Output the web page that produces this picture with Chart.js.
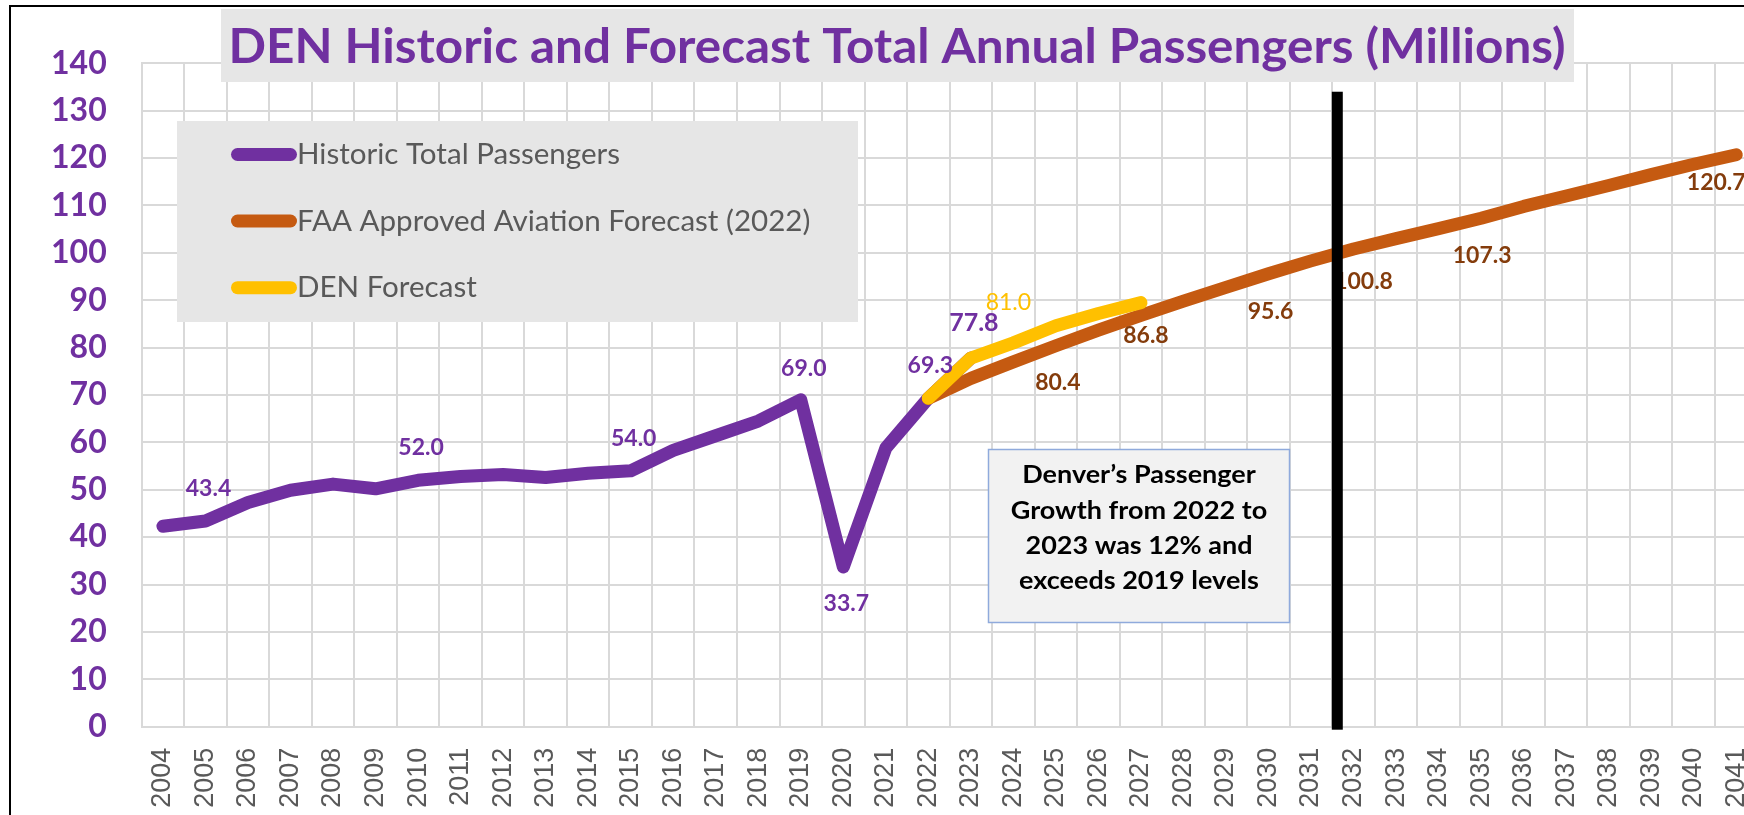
<!DOCTYPE html>
<html><head><meta charset="utf-8">
<script src="https://cdn.jsdelivr.net/npm/chart.js@4.4.1/dist/chart.umd.min.js"></script>
<style>
html,body{margin:0;padding:0;background:#fff;overflow:hidden;width:1744px;height:815px;}
#wrap{position:absolute;left:0;top:0;width:1770px;height:815px;}
</style></head><body>
<div id="wrap"><canvas id="c" width="1770" height="815"></canvas></div>
<script>
// ---------- data ----------
const years = ['2004','2005','2006','2007','2008','2009','2010','2011','2012','2013','2014','2015','2016','2017','2018','2019','2020','2021','2022','2023','2024','2025','2026','2027','2028','2029','2030','2031','2032','2033','2034','2035','2036','2037','2038','2039','2040','2041'];
const historic = [42.3,43.4,47.3,49.9,51.2,50.2,52.0,52.8,53.2,52.6,53.5,54.0,58.3,61.4,64.5,69.0,33.7,58.8,69.3,77.8,
  null,null,null,null,null,null,null,null,null,null,null,null,null,null,null,null,null,null];
const faaForecast = [null,null,null,null,null,null,null,null,null,null,null,null,null,null,null,null,null,null,
  69.3,73.5,77.0,80.4,83.7,86.8,89.8,92.7,95.6,98.3,100.8,103.0,105.1,107.3,109.8,112.0,114.2,116.5,118.7,120.7];
const denForecast = [null,null,null,null,null,null,null,null,null,null,null,null,null,null,null,null,null,null,
  69.3,77.8,81.0,84.6,87.2,89.5,null,null,null,null,null,null,null,null,null,null,null,null,null,null];
const seriesNames = ['Historic Total Passengers','FAA Approved Aviation Forecast (2022)','DEN Forecast'];
const historicLabelYears = ['2005','2010','2015','2019','2020','2022','2023'];
const faaLabelYears = ['2025','2027','2030','2032','2035','2041'];
const denLabelYears = ['2024'];
const yTickMax = 140, yTickStep = 10;
const titleText = 'DEN Historic and Forecast Total Annual Passengers (Millions)';
const noteLines = ['Denver\u2019s Passenger','Growth from 2022 to','2023 was 12% and','exceeds 2019 levels'];

// ---------- styles ----------
const PURPLE = '#7030A0', ORANGE = '#C55A11', YELLOW = '#FFC000', BROWN = '#843C0C', GRID = '#D9D9D9';
const labelStyle = {
  0: {color: PURPLE, weight: 'bold', off: {'2005':[3,-32],'2010':[3,-33],'2015':[3,-32],'2019':[3,-31],'2020':[3,37],'2022':[2,-33],'2023':[3,-35]}},
  1: {color: BROWN, weight: 'bold', off: {'2025':[2,37],'2027':[5,20],'2030':[2,38],'2032':[10,33],'2035':[1,37],'2041':[-20,28]}},
  2: {color: YELLOW, weight: 'normal', off: {'2024':[-5,-40]}}
};
const labelYears = [historicLabelYears, faaLabelYears, denLabelYears];

function drawFit(ctx, text, x, y, font, color, sx, align) {
  ctx.save();
  ctx.font = font; ctx.fillStyle = color; ctx.textBaseline = 'alphabetic'; ctx.textAlign = align || 'left';
  ctx.translate(x, y); ctx.scale(sx, 1); ctx.fillText(text, 0, 0);
  ctx.restore();
}
function scaleFor(ctx, text, font, target) {
  ctx.save(); ctx.font = font; const w = ctx.measureText(text).width; ctx.restore();
  return target / w;
}

const decor = {
  id: 'decor',
  beforeDatasetsDraw(chart) {
    const ctx = chart.ctx;
    ctx.save();
    // outer frame
    ctx.strokeStyle = '#000'; ctx.lineWidth = 2;
    ctx.beginPath(); ctx.moveTo(10, 900); ctx.lineTo(10, 6); ctx.lineTo(1800, 6); ctx.stroke();
    // title
    ctx.fillStyle = '#E6E6E6'; ctx.fillRect(221, 9, 1353, 73);
    const tFont = 'bold 47px Lato';
    drawFit(ctx, titleText, 228.5, 62.7, tFont, PURPLE, scaleFor(ctx, titleText, tFont, 1337), 'left');
    // legend
    ctx.fillStyle = '#E6E6E6'; ctx.fillRect(177, 121, 681, 201);
    const lFont = '28px Lato';
    const lsx = scaleFor(ctx, seriesNames[0], lFont, 323);
    const lcols = [PURPLE, ORANGE, YELLOW];
    const lys = [154.5, 221, 287.7];
    for (let i = 0; i < 3; i++) {
      ctx.strokeStyle = lcols[i]; ctx.lineWidth = 13; ctx.lineCap = 'round';
      ctx.beginPath(); ctx.moveTo(237.5, lys[i]); ctx.lineTo(290.5, lys[i]); ctx.stroke();
      drawFit(ctx, seriesNames[i], 297, lys[i] + 9.5, lFont, '#595959', lsx, 'left');
    }
    // note box
    ctx.fillStyle = '#F2F2F2'; ctx.fillRect(988, 449, 302, 174);
    ctx.strokeStyle = '#8FAADC'; ctx.lineWidth = 1.5; ctx.strokeRect(988.5, 449.5, 301, 173);
    const nFont = 'bold 25px Lato';
    const nsx = scaleFor(ctx, noteLines[1], nFont, 256.5);
    const nys = [483.3, 518.6, 554, 589.3];
    noteLines.forEach((t, i) => drawFit(ctx, t, 1139, nys[i], nFont, '#000', nsx, 'center'));
    ctx.restore();
  },
  afterDatasetsDraw(chart) {
    const ctx = chart.ctx;
    ctx.save();
    ctx.textAlign = 'center'; ctx.textBaseline = 'middle';
    labelYears.forEach((ys, di) => {
      const meta = chart.getDatasetMeta(di);
      const st = labelStyle[di];
      const data = chart.data.datasets[di].data;
      ys.forEach(yr => {
        const idx = years.indexOf(yr);
        const pt = meta.data[idx];
        const o = st.off[yr] || [0, -30];
        ctx.font = st.weight + ' ' + (yr === '2023' && di === 0 ? 25 : 23) + 'px Lato';
        ctx.fillStyle = st.color;
        ctx.fillText(data[idx].toFixed(1), pt.x + o[0], pt.y + o[1]);
      });
    });
    // vertical divider between 2031 and 2032
    const xs = chart.scales.x, ys = chart.scales.y;
    const xd = (xs.getPixelForValue(27) + xs.getPixelForValue(28)) / 2 + 5;
    ctx.fillStyle = '#000';
    const top = ys.getPixelForValue(134), bot = ys.getPixelForValue(0) + 3;
    ctx.fillRect(xd - 5.5, top, 11, bot - top);
    ctx.restore();
  }
};

function build() {
  const lineDs = (label, data, color, order) => ({
    label, data, borderColor: color, backgroundColor: color, borderWidth: 13,
    pointRadius: 0, pointHoverRadius: 0, borderCapStyle: 'round', borderJoinStyle: 'round',
    tension: 0, order, spanGaps: false, fill: false
  });
  new Chart(document.getElementById('c'), {
    type: 'line',
    data: {
      labels: years,
      datasets: [
        lineDs(seriesNames[0], historic, PURPLE, 2),
        lineDs(seriesNames[1], faaForecast, ORANGE, 1),
        lineDs(seriesNames[2], denForecast, YELLOW, 0)
      ]
    },
    options: {
      responsive: false, animation: false, events: [],
      layout: {padding: {left: 0, top: 63.3, right: 12.5, bottom: 0}},
      plugins: {legend: {display: false}, title: {display: false}, tooltip: {enabled: false}},
      scales: {
        x: {
          type: 'category', offset: true,
          grid: {offset: true, color: GRID, lineWidth: 2, drawTicks: false},
          border: {display: true, color: GRID, width: 2},
          ticks: {autoSkip: false, minRotation: 90, maxRotation: 90, padding: 21, color: '#595959',
                  font: {family: 'Liberation Sans', size: 27}},
          afterFit(s) { s.height = 88.3; s.paddingLeft = 0; s.paddingRight = 0; }
        },
        y: {
          min: 0, max: yTickMax,
          grid: {color: GRID, lineWidth: 2, drawTicks: false},
          border: {display: true, color: GRID, width: 2},
          ticks: {stepSize: yTickStep, padding: 35, color: PURPLE,
                  font: {family: 'Lato', weight: 'bold', size: 32}},
          afterFit(s) { s.width = 141.7; s.paddingTop = 0; s.paddingBottom = 0; }
        }
      }
    },
    plugins: [decor]
  });
}
const fontsToLoad = ['bold 47px Lato', '28px Lato', 'bold 25px Lato', 'bold 32px Lato', '23px Lato', '27px "Liberation Sans"'];
Promise.all(fontsToLoad.map(f => document.fonts.load(f))).then(build, build);
</script>
</body></html>
